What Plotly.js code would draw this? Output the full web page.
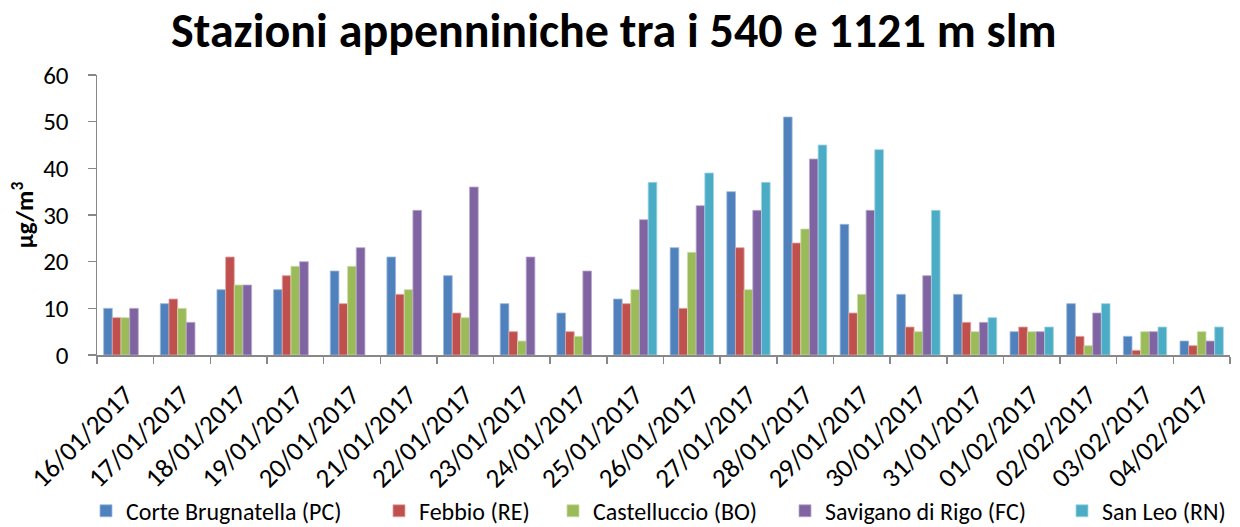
<!DOCTYPE html>
<html>
<head>
<meta charset="utf-8">
<script src="https://cdn.plot.ly/plotly-3.0.1.min.js"></script>
<style>
html,body{margin:0;padding:0;background:#fff;}
#chart{width:1240px;height:527px;}
</style>
</head>
<body>
<div id="chart"></div>
<script>
var dates = ["16/01/2017","17/01/2017","18/01/2017","19/01/2017","20/01/2017","21/01/2017","22/01/2017","23/01/2017","24/01/2017","25/01/2017","26/01/2017","27/01/2017","28/01/2017","29/01/2017","30/01/2017","31/01/2017","01/02/2017","02/02/2017","03/02/2017","04/02/2017"];
var corteBrugnatella = [10,11,14,14,18,21,17,11,9,12,23,35,51,28,13,13,5,11,4,3];
var febbio = [8,12,21,17,11,13,9,5,5,11,10,23,24,9,6,7,6,4,1,2];
var castelluccio = [8,10,15,19,19,14,8,3,4,14,22,14,27,13,5,5,5,2,5,5];
var savigano = [10,7,15,20,23,31,36,21,18,29,32,31,42,31,17,7,5,9,5,3];
var sanLeo = [null,null,null,null,null,null,null,null,null,37,39,37,45,44,31,8,6,11,6,6];

var seriesNames = ["Corte Brugnatella (PC)","Febbio (RE)","Castelluccio (BO)","Savigano di Rigo (FC)","San Leo (RN)"];
var seriesData = [corteBrugnatella, febbio, castelluccio, savigano, sanLeo];
var colors = ["#4F81BD","#C0504D","#9BBB59","#8064A2","#4BACC6"];
var lineColors = ["#9DB9DD","#E2A5A3","#CADDA8","#B9A8CF","#A2D4E2"];

var FONT = "Carlito, Lato, 'Open Sans', sans-serif";
var legendIds = ["legend","legend2","legend3","legend4","legend5"];
var legendX = [86, 379, 553, 785, 1062];

var traces = seriesNames.map(function(n, i){
  return {
    type: "bar",
    name: n,
    x: dates,
    y: seriesData[i],
    legend: legendIds[i],
    marker: {color: colors[i], line: {color: lineColors[i], width: 0.8}},
    hoverinfo: "x+y+name"
  };
});

var layout = {
  width: 1240, height: 527,
  paper_bgcolor: "#fff", plot_bgcolor: "#fff",
  margin: {l: 97, r: 10, t: 75, b: 172},
  font: {family: FONT, color: "#000"},
  title: {text: "<b>Stazioni appenniniche tra i 540 e 1121 m slm</b>", font: {size: 48, family: FONT, color: "#000"}, x: 0.495, xanchor: "center", xref: "container", y: 0.943, yanchor: "middle"},
  barmode: "group",
  bargap: 0.235,
  bargroupgap: 0,
  showlegend: true,
  xaxis: {
    type: "category",
    tickangle: -45,
    tickfont: {size: 27, family: FONT},
    showline: true, linecolor: "#888", linewidth: 1.5,
    ticks: "outside", tickson: "boundaries", ticklen: 7, tickcolor: "#888", tickwidth: 1.5,
    ticklabelstandoff: 12,
    showgrid: false, zeroline: false, automargin: false
  },
  yaxis: {
    range: [0, 60], dtick: 10,
    tickfont: {size: 25, family: FONT},
    showline: true, linecolor: "#888", linewidth: 1.5,
    ticks: "outside", ticklen: 8, tickcolor: "#888", tickwidth: 1.5,
    ticklabelstandoff: 14,
    showgrid: false, zeroline: false, automargin: false,
    title: {text: "<b>µg/m<sup>3</sup></b>", font: {size: 25, family: FONT}, standoff: 2}
  }
};
legendIds.forEach(function(id, i){
  layout[id] = {orientation: "h", x: legendX[i] / 1240, xanchor: "left", xref: "container", yref: "container", y: 0.03, yanchor: "middle", font: {size: 24, family: FONT}, itemwidth: 30, bgcolor: "rgba(0,0,0,0)"};
});

Plotly.newPlot("chart", traces, layout, {displayModeBar: false, staticPlot: true});
</script>
</body>
</html>
